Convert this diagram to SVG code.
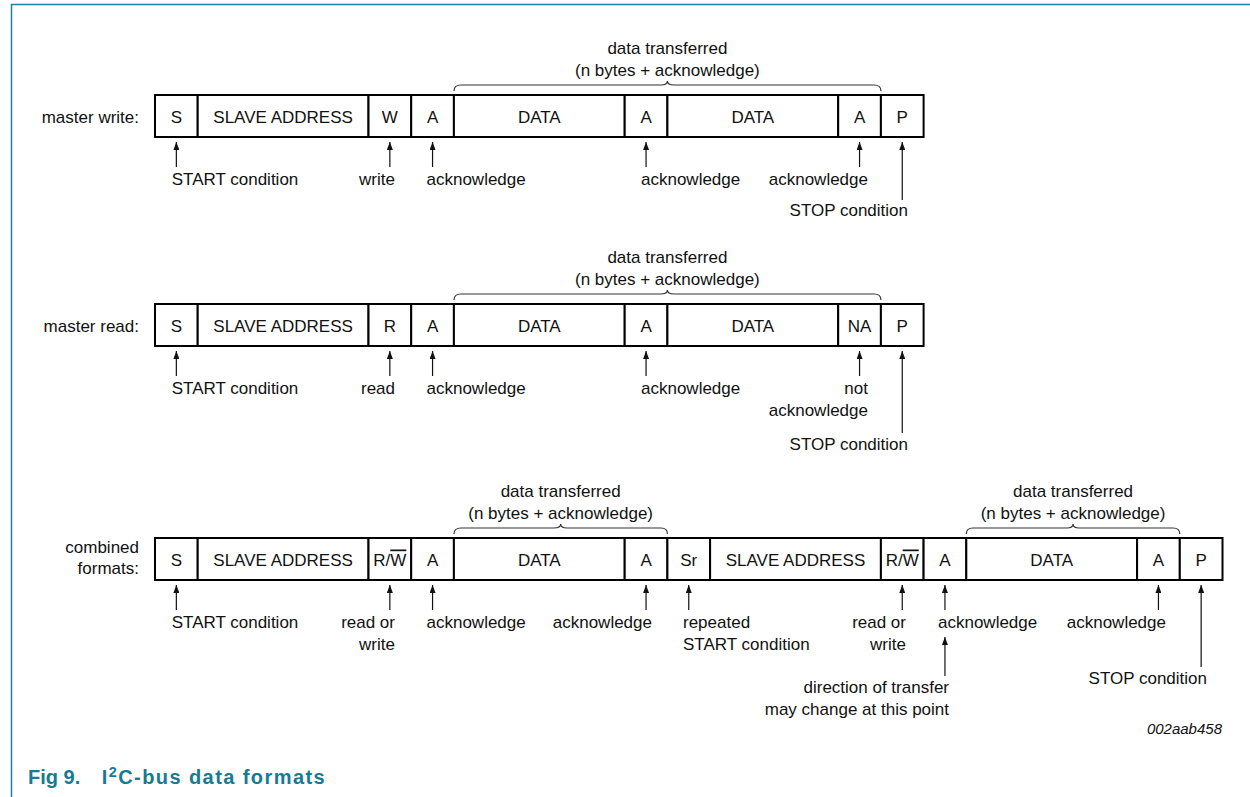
<svg xmlns="http://www.w3.org/2000/svg" width="1250" height="797" viewBox="0 0 1250 797">
<style>
text{font-family:"Liberation Sans",Arial,sans-serif;font-size:17px;fill:#111}
.c{text-anchor:middle}
.e{text-anchor:end}
.cell{fill:#fff;stroke:#000;stroke-width:2}
.arr{stroke:#111;stroke-width:1.2;fill:none;marker-end:url(#ah)}
.br{stroke:#333;stroke-width:1.2;fill:none}
.cap{font-weight:bold;font-size:20px;fill:#167a94}
.id{font-style:italic;font-size:15px}
</style>
<defs>
<marker id="ah" markerUnits="userSpaceOnUse" viewBox="0 0 8 6" markerWidth="8" markerHeight="6" refX="8" refY="3" orient="auto">
<path d="M0,0 L8,3 L0,6 z" fill="#111"/>
</marker>
</defs>
<rect width="1250" height="797" fill="#fff"/>
<g id="frame" fill="none" stroke="#1f809c" stroke-width="1.5">
<path d="M1250,4.5 H11.5 V797"/>
</g>

<!-- Row 1: master write -->
<g id="row-write">
<text id="lbl-write" class="e" x="139" y="122.5">master write:</text>
<g id="w-S"><rect class="cell" x="155" y="95" width="42.7" height="42"/><text class="c" x="176.35" y="122.5">S</text></g>
<g id="w-SA"><rect class="cell" x="197.7" y="95" width="170.8" height="42"/><text class="c" x="283.1" y="122.5">SLAVE ADDRESS</text></g>
<g id="w-W"><rect class="cell" x="368.5" y="95" width="42.7" height="42"/><text class="c" x="389.85" y="122.5">W</text></g>
<g id="w-A1"><rect class="cell" x="411.2" y="95" width="42.7" height="42"/><text class="c" x="432.55" y="122.5">A</text></g>
<g id="w-D1"><rect class="cell" x="453.9" y="95" width="170.8" height="42"/><text class="c" x="539.3" y="122.5">DATA</text></g>
<g id="w-A2"><rect class="cell" x="624.7" y="95" width="42.7" height="42"/><text class="c" x="646.05" y="122.5">A</text></g>
<g id="w-D2"><rect class="cell" x="667.4" y="95" width="170.8" height="42"/><text class="c" x="752.8" y="122.5">DATA</text></g>
<g id="w-A3"><rect class="cell" x="838.2" y="95" width="42.7" height="42"/><text class="c" x="859.55" y="122.5">A</text></g>
<g id="w-P"><rect class="cell" x="880.9" y="95" width="42.7" height="42"/><text class="c" x="902.25" y="122.5">P</text></g>
<g id="w-brace-lbl"><text class="c" x="667.4" y="54">data transferred</text><text class="c" x="667.4" y="76">(n bytes + acknowledge)</text></g>
<g id="w-notes">
<text x="171.7" y="185">START condition</text>
<text class="e" x="395" y="185">write</text>
<text x="426.5" y="185">acknowledge</text>
<text x="641" y="185">acknowledge</text>
<text class="e" x="868" y="185">acknowledge</text>
<text class="e" x="908" y="216">STOP condition</text>
</g>
</g>

<!-- Row 2: master read -->
<g id="row-read">
<text id="lbl-read" class="e" x="139" y="331.5">master read:</text>
<g id="r-S"><rect class="cell" x="155" y="304" width="42.7" height="42"/><text class="c" x="176.35" y="331.5">S</text></g>
<g id="r-SA"><rect class="cell" x="197.7" y="304" width="170.8" height="42"/><text class="c" x="283.1" y="331.5">SLAVE ADDRESS</text></g>
<g id="r-R"><rect class="cell" x="368.5" y="304" width="42.7" height="42"/><text class="c" x="389.85" y="331.5">R</text></g>
<g id="r-A1"><rect class="cell" x="411.2" y="304" width="42.7" height="42"/><text class="c" x="432.55" y="331.5">A</text></g>
<g id="r-D1"><rect class="cell" x="453.9" y="304" width="170.8" height="42"/><text class="c" x="539.3" y="331.5">DATA</text></g>
<g id="r-A2"><rect class="cell" x="624.7" y="304" width="42.7" height="42"/><text class="c" x="646.05" y="331.5">A</text></g>
<g id="r-D2"><rect class="cell" x="667.4" y="304" width="170.8" height="42"/><text class="c" x="752.8" y="331.5">DATA</text></g>
<g id="r-NA"><rect class="cell" x="838.2" y="304" width="42.7" height="42"/><text class="c" x="859.55" y="331.5">NA</text></g>
<g id="r-P"><rect class="cell" x="880.9" y="304" width="42.7" height="42"/><text class="c" x="902.25" y="331.5">P</text></g>
<g id="r-brace-lbl"><text class="c" x="667.4" y="263">data transferred</text><text class="c" x="667.4" y="285">(n bytes + acknowledge)</text></g>
<g id="r-notes">
<text x="171.7" y="394">START condition</text>
<text class="e" x="395" y="394">read</text>
<text x="426.5" y="394">acknowledge</text>
<text x="641" y="394">acknowledge</text>
<text class="e" x="868" y="394">not</text>
<text class="e" x="868" y="416">acknowledge</text>
<text class="e" x="908" y="450">STOP condition</text>
</g>
</g>

<!-- Row 3: combined formats -->
<g id="row-combined">
<text id="lbl-comb" class="e" x="139" y="553">combined</text>
<text class="e" x="139" y="574">formats:</text>
<g id="c-S"><rect class="cell" x="155" y="538" width="42.7" height="42"/><text class="c" x="176.35" y="565.5">S</text></g>
<g id="c-SA1"><rect class="cell" x="197.7" y="538" width="170.8" height="42"/><text class="c" x="283.1" y="565.5">SLAVE ADDRESS</text></g>
<g id="c-RW1"><rect class="cell" x="368.5" y="538" width="42.7" height="42"/><text class="c" x="389.85" y="565.5">R/<tspan text-decoration="overline">W</tspan></text></g>
<g id="c-A1"><rect class="cell" x="411.2" y="538" width="42.7" height="42"/><text class="c" x="432.55" y="565.5">A</text></g>
<g id="c-D1"><rect class="cell" x="453.9" y="538" width="170.8" height="42"/><text class="c" x="539.3" y="565.5">DATA</text></g>
<g id="c-A2"><rect class="cell" x="624.7" y="538" width="42.7" height="42"/><text class="c" x="646.05" y="565.5">A</text></g>
<g id="c-Sr"><rect class="cell" x="667.4" y="538" width="42.7" height="42"/><text class="c" x="688.75" y="565.5">Sr</text></g>
<g id="c-SA2"><rect class="cell" x="710.1" y="538" width="170.8" height="42"/><text class="c" x="795.5" y="565.5">SLAVE ADDRESS</text></g>
<g id="c-RW2"><rect class="cell" x="880.9" y="538" width="42.7" height="42"/><text class="c" x="902.25" y="565.5">R/<tspan text-decoration="overline">W</tspan></text></g>
<g id="c-A3"><rect class="cell" x="923.6" y="538" width="42.7" height="42"/><text class="c" x="944.95" y="565.5">A</text></g>
<g id="c-D2"><rect class="cell" x="966.3" y="538" width="170.8" height="42"/><text class="c" x="1051.7" y="565.5">DATA</text></g>
<g id="c-A4"><rect class="cell" x="1137.1" y="538" width="42.7" height="42"/><text class="c" x="1158.45" y="565.5">A</text></g>
<g id="c-P"><rect class="cell" x="1179.8" y="538" width="42.7" height="42"/><text class="c" x="1201.15" y="565.5">P</text></g>
<g id="c-brace1-lbl"><text class="c" x="560.65" y="497">data transferred</text><text class="c" x="560.65" y="519">(n bytes + acknowledge)</text></g>
<g id="c-brace2-lbl"><text class="c" x="1073.05" y="497">data transferred</text><text class="c" x="1073.05" y="519">(n bytes + acknowledge)</text></g>
<g id="c-notes">
<text x="171.7" y="628">START condition</text>
<text class="e" x="395" y="628">read or</text>
<text class="e" x="395" y="650">write</text>
<text x="426.5" y="628">acknowledge</text>
<text class="e" x="652" y="628">acknowledge</text>
<text x="683" y="628">repeated</text>
<text x="683" y="650">START condition</text>
<text class="e" x="906" y="628">read or</text>
<text class="e" x="906" y="650">write</text>
<text x="938" y="628">acknowledge</text>
<text class="e" x="949" y="693">direction of transfer</text>
<text class="e" x="949" y="715">may change at this point</text>
<text class="e" x="1166" y="628">acknowledge</text>
<text class="e" x="1207" y="684">STOP condition</text>
</g>
</g>

<!-- connectors: arrows and braces -->
<g id="connectors">
<line class="arr" x1="176.35" y1="167" x2="176.35" y2="142"/>
<line class="arr" x1="389.85" y1="167" x2="389.85" y2="142"/>
<line class="arr" x1="432.55" y1="167" x2="432.55" y2="142"/>
<line class="arr" x1="646.05" y1="167" x2="646.05" y2="142"/>
<line class="arr" x1="859.55" y1="167" x2="859.55" y2="142"/>
<line class="arr" x1="902.25" y1="200" x2="902.25" y2="142"/>

<line class="arr" x1="176.35" y1="376" x2="176.35" y2="351"/>
<line class="arr" x1="389.85" y1="376" x2="389.85" y2="351"/>
<line class="arr" x1="432.55" y1="376" x2="432.55" y2="351"/>
<line class="arr" x1="646.05" y1="376" x2="646.05" y2="351"/>
<line class="arr" x1="859.55" y1="376" x2="859.55" y2="351"/>
<line class="arr" x1="902.25" y1="433" x2="902.25" y2="351"/>

<line class="arr" x1="176.35" y1="610" x2="176.35" y2="585"/>
<line class="arr" x1="389.85" y1="610" x2="389.85" y2="585"/>
<line class="arr" x1="432.55" y1="610" x2="432.55" y2="585"/>
<line class="arr" x1="646.05" y1="610" x2="646.05" y2="585"/>
<line class="arr" x1="688.75" y1="610" x2="688.75" y2="585"/>
<line class="arr" x1="902.25" y1="610" x2="902.25" y2="585"/>
<line class="arr" x1="944.95" y1="610" x2="944.95" y2="585"/>
<line class="arr" x1="944.95" y1="676" x2="944.95" y2="637"/>
<line class="arr" x1="1158.45" y1="610" x2="1158.45" y2="585"/>
<line class="arr" x1="1201.15" y1="667" x2="1201.15" y2="585"/>

<path class="br" d="M454,91 Q454,85 461,85 H661 Q667.4,85 667.4,81 Q667.4,85 674,85 H874 Q881,85 881,91"/>
<path class="br" d="M454,300 Q454,294 461,294 H661 Q667.4,294 667.4,290 Q667.4,294 674,294 H874 Q881,294 881,300"/>
<path class="br" d="M454,534 Q454,528 461,528 H554 Q560.65,528 560.65,524 Q560.65,528 567,528 H661 Q667.4,528 667.4,534"/>
<path class="br" d="M966.3,534 Q966.3,528 973,528 H1067 Q1073.05,528 1073.05,524 Q1073.05,528 1079,528 H1173 Q1179.8,528 1179.8,534"/>
</g>

<text id="docid" class="id e" x="1222" y="734">002aab458</text>
<g id="caption">
<text class="cap" x="28" y="784">Fig 9.</text>
<text class="cap" x="101.7" y="784" font-size="21" textLength="223" lengthAdjust="spacing">I<tspan font-size="14.5" dy="-7.5">2</tspan><tspan dy="7.5">C-bus data formats</tspan></text>
</g>
</svg>
